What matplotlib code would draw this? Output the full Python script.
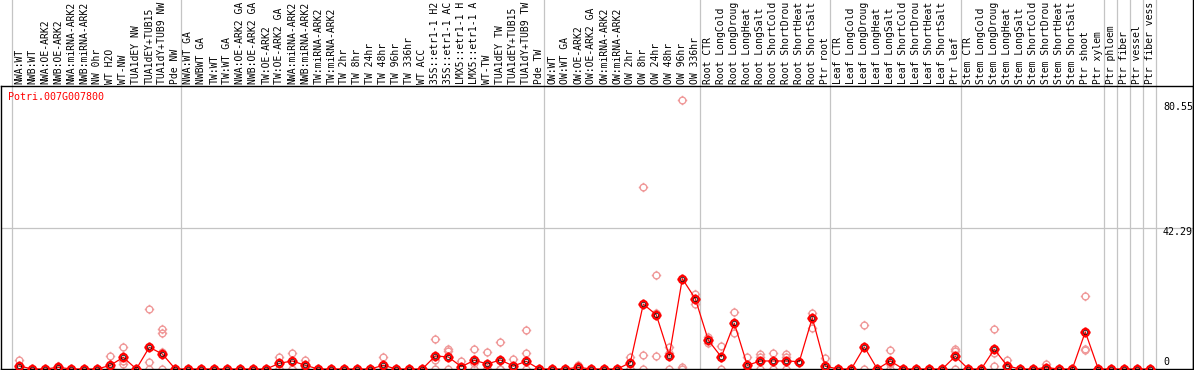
import matplotlib
matplotlib.use("Agg")
import matplotlib.pyplot as plt
from matplotlib.path import Path

gene = "Potri.007G007800"

labels = [
    "NWA:WT", "NWB:WT", "NWA:OE-ARK2", "NWB:OE-ARK2", "NWA:miRNA-ARK2", "NWB:miRNA-ARK2",
    "NW 0hr", "WT H2O", "WT-NW", "TUA1dEY NW", "TUA1dEY+TUB15", "TUA1dY+TUB9 NW", "Pde NW",
    "NWA:WT GA", "NWBWT GA", "TW:WT", "TW:WT GA", "NWA:OE-ARK2 GA", "NWB:OE-ARK2 GA",
    "TW:OE-ARK2", "TW:OE-ARK2 GA", "NWA:miRNA-ARK2", "NWB:miRNA-ARK2", "TW:miRNA-ARK2",
    "TW:miRNA-ARK2", "TW 2hr", "TW 8hr", "TW 24hr", "TW 48hr", "TW 96hr", "TW 336hr", "WT ACC",
    "35S::etr1-1 H2O", "35S::etr1-1 ACC", "LMX5::etr1-1 H2O", "LMX5::etr1-1 ACC", "WT-TW",
    "TUA1dEY TW", "TUA1dEY+TUB15 TW", "TUA1dY+TUB9 TW", "Pde TW",
    "OW:WT", "OW:WT GA", "OW:OE-ARK2", "OW:OE-ARK2 GA", "OW:miRNA-ARK2", "OW:miRNA-ARK2",
    "OW 2hr", "OW 8hr", "OW 24hr", "OW 48hr", "OW 96hr", "OW 336hr",
    "Root CTR", "Root LongCold", "Root LongDrought", "Root LongHeat", "Root LongSalt",
    "Root ShortCold", "Root ShortDrought", "Root ShortHeat", "Root ShortSalt", "Ptr root",
    "Leaf CTR", "Leaf LongCold", "Leaf LongDrought", "Leaf LongHeat", "Leaf LongSalt",
    "Leaf ShortCold", "Leaf ShortDrought", "Leaf ShortHeat", "Leaf ShortSalt", "Ptr leaf",
    "Stem CTR", "Stem LongCold", "Stem LongDrought", "Stem LongHeat", "Stem LongSalt",
    "Stem ShortCold", "Stem ShortDrought", "Stem ShortHeat", "Stem ShortSalt", "Ptr shoot",
    "Ptr xylem", "Ptr phloem", "Ptr fiber", "Ptr vessel", "Ptr fiber vessel",
]

means = [
    0.9, 0, 0, 0.5, 0, 0, 0, 1.1, 3.5, 0, 6.5, 4.5, 0,
    0, 0, 0, 0, 0, 0, 0, 1.7, 2.4, 1.1, 0, 0, 0, 0, 0, 1.1, 0, 0, 0,
    3.9, 3.6, 0.7, 2.6, 1.5, 2.7, 0.9, 2.3, 0,
    0, 0, 0.5, 0, 0, 0, 1.9, 19.4, 16.2, 4.0, 27.0, 21.0,
    8.6, 3.6, 13.7, 1.1, 2.4, 2.4, 2.4, 2.2, 15.3, 0.8,
    0, 0, 6.6, 0, 2.4, 0, 0, 0, 0, 3.8,
    0, 0, 5.9, 0.9, 0, 0, 0.4, 0, 0, 11.1,
    0, 0, 0, 0, 0,
]

replicates = [
    [2.7, 0, 0], [0, 0, 0], [0, 0, 0], [0.9, 0.5, 0], [0, 0, 0], [0, 0, 0], [0, 0, 0],
    [3.8, 0.5, 0], [6.5, 2.4, 1.6], [0, 0, 0], [17.9, 2.0, 0], [11.9, 10.9, 5.2, 0], [0, 0, 0],
    [0, 0, 0], [0, 0, 0], [0, 0, 0], [0, 0, 0], [0, 0, 0], [0, 0, 0], [0, 0, 0],
    [3.7, 0, 0], [4.7, 0, 0], [2.7, 0, 0], [0, 0, 0], [0, 0, 0], [0, 0, 0], [0, 0, 0],
    [0, 0, 0], [3.6, 0, 0], [0, 0, 0], [0, 0, 0], [0, 0, 0],
    [8.9, 2.8, 0], [5.9, 5.4, 0], [2.4, 0, 0], [6.0, 1.8, 0], [5.1, 0, 0], [8.1, 0, 0],
    [2.9, 0, 0], [11.6, 4.8, 0], [0, 0, 0],
    [0, 0, 0], [0, 0, 0], [1.2, 0, 0], [0, 0, 0], [0, 0, 0], [0, 0, 0], [3.7, 0, 0],
    [54.3, 4.2, 0], [28.1, 16.6, 3.9], [6.7, 4.9, 0], [80.55, 0.5, 0], [22.5, 19.3, 21.0],
    [9.7, 7.7, 8.6], [6.9, 3.6, 0], [17.0, 10.7, 13.7], [3.5, 0, 0], [4.4, 3.5, 0],
    [4.8, 2.4, 0], [4.4, 3.5, 0], [2.2, 2.2, 2.2], [16.7, 12.4, 15.3], [3.4, 0, 0],
    [0, 0, 0], [0, 0, 0], [13.2, 6.6, 0], [0, 0, 0], [5.7, 1.5, 0], [0, 0, 0], [0, 0, 0],
    [0, 0, 0], [0, 0, 0], [5.9, 5.5, 0],
    [0, 0, 0], [0, 0, 0], [12.1, 4.7, 1.0], [2.7, 0, 0], [0, 0, 0], [0, 0, 0], [1.5, 0, 0],
    [0, 0, 0], [0, 0, 0], [21.8, 5.8, 5.9],
    [0, 0, 0], [0, 0, 0], [0, 0, 0], [0, 0, 0], [0, 0, 0],
]

# first column of each sample group (last entry closes the final group)
group_starts = [0, 13, 41, 53, 63, 73, 84, 85, 86, 87, 88]
scale_marks = [80.55, 42.29, 0]

W, H = 1194, 370
x0_px, step_px = 19.3, 13.0
top_px, bottom_px = 86, 369
px_per_unit = 3.345
max_chars = 14  # the header only has room for this many characters

fig = plt.figure(figsize=(W / 100, H / 100), dpi=100)
ax = fig.add_axes([1 / W, (H - bottom_px) / H, 1192 / W, (bottom_px - top_px) / H])
ax.set_xlim((1 - x0_px) / step_px, (1193 - x0_px) / step_px)
ax.set_ylim(0, (bottom_px - top_px) / px_per_unit)
ax.set_xticks([])
ax.set_yticks([])
for s in ax.spines.values():
    s.set_color("black")
    s.set_linewidth(1.0)

grey = "#c4c4c4"
ext = bottom_px / (bottom_px - top_px)
for g in group_starts:
    ax.axvline(g - 0.6, ymin=0, ymax=ext, color=grey, lw=0.9, clip_on=False, zorder=1)
ax.axhline(scale_marks[1], color=grey, lw=0.9, zorder=1)

# right border runs up through the header
fig.add_artist(plt.Line2D([1192.5 / W, 1192.5 / W], [0, 1], color="black", lw=1.0))

# circle marker with small ticks
circ = Path.unit_circle()
ticks = Path(
    [(0, 1), (0, 1.4), (0, -1), (0, -1.4), (1, 0), (1.4, 0), (-1, 0), (-1.4, 0)],
    [Path.MOVETO, Path.LINETO] * 4,
)
tick_circle = Path.make_compound_path(circ, ticks)

rx, ry = [], []
for i, vals in enumerate(replicates):
    rx += [i] * len(vals)
    ry += vals
ax.plot(rx, ry, ls="none", marker=tick_circle, ms=6.8, mfc="none",
        mec="#f09a9a", mew=1.0, zorder=2)

xs = list(range(len(means)))
ax.plot(xs, means, color="red", lw=0.9, zorder=3)
ax.plot(xs, means, ls="none", marker=tick_circle, ms=7.2, mfc="none",
        mec="red", mew=1.6, zorder=4)
ax.plot(xs, means, ls="none", marker="o", ms=3.0, mfc="none",
        mec="black", mew=0.5, zorder=5)

mono = "DejaVu Sans Mono"
for i, lab in enumerate(labels):
    fig.text((x0_px + step_px * i) / W, 1 - 84 / H, lab[:max_chars], rotation=90,
             ha="center", va="bottom", fontsize=7.0, family=mono)

fig.text(8 / W, 1 - 97 / H, gene, color="red", ha="left", va="center",
         fontsize=7.2, family=mono)

for val, ypx in zip(scale_marks, [107, 232, 362]):
    lab = "0" if val == 0 else f"{val:.2f}"
    fig.text(1163 / W, 1 - ypx / H, lab, ha="left", va="center",
             fontsize=7.2, family=mono)

fig.savefig("out.png", dpi=100)
plt.close(fig)
